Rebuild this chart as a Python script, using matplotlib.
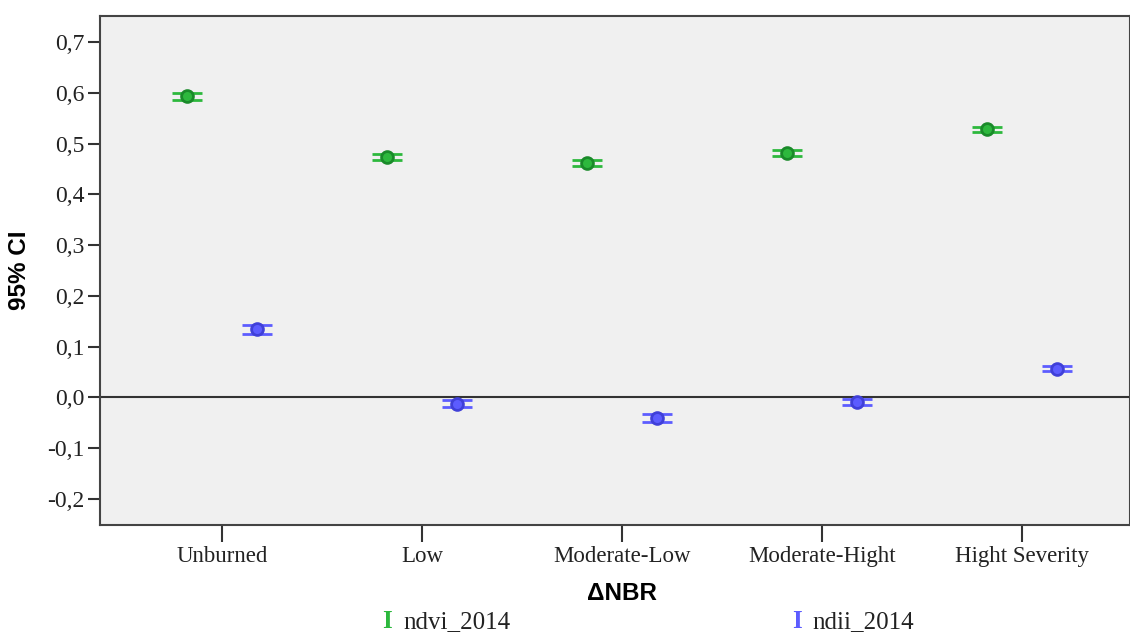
import matplotlib.pyplot as plt
import numpy as np

categories = ['Unburned', 'Low', 'Moderate-Low', 'Moderate-Hight', 'Hight Severity']
ndvi_mean = [0.593, 0.474, 0.461, 0.481, 0.528]
ndvi_ci = [0.0065, 0.006, 0.006, 0.006, 0.005]
ndii_mean = [0.134, -0.012, -0.040, -0.009, 0.057]
ndii_ci = [0.009, 0.0075, 0.008, 0.006, 0.005]
y_ticks = [-0.2, -0.1, 0.0, 0.1, 0.2, 0.3, 0.4, 0.5, 0.6, 0.7]

green = '#2db83d'
green_dark = '#1a8a2a'
blue = '#5c5cff'
blue_dark = '#4040d8'
serif = 'Liberation Serif'
sans = 'Liberation Sans'

fig = plt.figure(figsize=(11.3, 6.35), dpi=100)
ax = fig.add_axes([100 / 1130, 1 - 525 / 635, 1 - 100 / 1130, (525 - 16) / 635])
ax.set_facecolor('#f0f0f0')

x = np.arange(len(categories))
off = 0.175

ax.axhline(0, color='#333333', lw=1.5, zorder=1)

ax.errorbar(x - off, ndvi_mean, yerr=ndvi_ci, fmt='o', color=green, ecolor=green,
            capsize=11, capthick=2.5, elinewidth=1.5, ms=8.5, mfc=green, mec=green_dark,
            mew=2, zorder=3)
ax.errorbar(x + off, ndii_mean, yerr=ndii_ci, fmt='o', color=blue, ecolor=blue,
            capsize=11, capthick=2.5, elinewidth=1.5, ms=8.5, mfc=blue, mec=blue_dark,
            mew=2, zorder=3)

ax.set_xlim(-0.61, 4.54)
ax.set_ylim(-0.251, 0.751)
ax.set_xticks(x)
ax.set_xticklabels(categories, fontfamily=serif, fontsize=16.5, color='#222222')
ax.set_yticks(y_ticks)
ax.set_yticklabels([('%.1f' % v).replace('.', ',') for v in y_ticks],
                   fontfamily=serif, fontsize=17, color='#222222')
ax.tick_params(axis='x', length=12, width=1.5, color='#333333', pad=3)
ax.tick_params(axis='y', length=9, width=1.5, color='#333333', pad=2)
for s in ax.spines.values():
    s.set_color('#444444')
    s.set_linewidth(1.5)

ax.set_ylabel('95% CI', fontfamily=sans, fontweight='bold', fontsize=17.5, labelpad=12)
fig.text(622 / 1130, 1 - 594 / 635, 'ΔNBR', fontfamily=sans, fontweight='bold',
         fontsize=17.5, ha='center', va='center')

# legend below the axes
fig.text(387 / 1130, 1 - 622 / 635, 'I', color=green, fontfamily=serif, fontsize=18,
         fontweight='bold', ha='center', va='center')
fig.text(403 / 1130, 1 - 622 / 635, 'ndvi_2014', fontfamily=serif, fontsize=18,
         ha='left', va='center', color='#222222')
fig.text(797 / 1130, 1 - 622 / 635, 'I', color=blue, fontfamily=serif, fontsize=18,
         fontweight='bold', ha='center', va='center')
fig.text(812 / 1130, 1 - 622 / 635, 'ndii_2014', fontfamily=serif, fontsize=18,
         ha='left', va='center', color='#222222')

fig.savefig('out.png', dpi=100)
